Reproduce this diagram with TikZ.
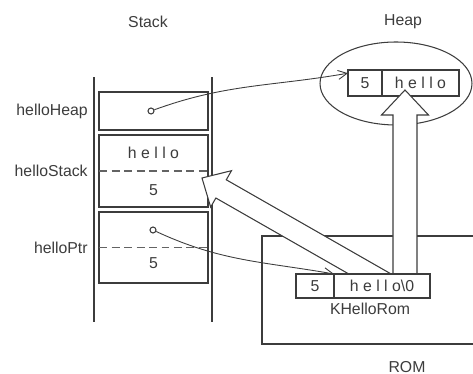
\documentclass[tikz,border=0pt]{standalone}
\usepackage{fontspec}
\setmainfont{Liberation Sans}
\newfontfamily\spacedfont[LetterSpace=28]{Liberation Sans}
\usepackage{tikz}
\usetikzlibrary{arrows.meta,positioning,calc,shapes.geometric}
\definecolor{ink}{HTML}{3C3C3C}
\pgfdeclarelayer{front}
\pgfsetlayers{main,front}
\tikzset{
 slot/.style={draw=ink,line width=0.9pt,fill=white,minimum width=2.18cm,inner sep=0pt,outer sep=0pt},
 cell/.style={draw=ink,line width=0.6pt,fill=white,inner sep=0pt,outer sep=0pt,
   minimum height=0.52cm,text=ink,font=\spacedfont\small},
 lbl/.style={text=ink,font=\small,inner sep=0pt},
 ptr/.style={circle,draw=ink,line width=0.6pt,minimum size=0.12cm,inner sep=0pt},
 link/.style={draw=ink,line width=0.5pt,-{Straight Barb[length=1.8mm,width=1.8mm]}},
 wall/.style={draw=ink,line width=1pt},
 divider/.style={draw=ink!80,line width=0.6pt,dash pattern=on 1.6mm off 0.9mm},
 bigarrow/.style={draw=ink,line width=0.6pt,fill=white,line join=miter}
}
% hollow block arrow: base, tip, shaft half width, head length, head half width
\newcommand{\hollowarrow}[5]{%
 \coordinate (hb) at ($(#2)!#4!(#1)$);
 \path[bigarrow] ($(#1)!#3!90:(#2)$) -- ($(hb)!#3!90:(#2)$) -- ($(hb)!#5!90:(#2)$)
   -- (#2) -- ($(hb)!#5!-90:(#2)$) -- ($(hb)!#3!-90:(#2)$) -- ($(#1)!#3!-90:(#2)$) -- cycle;
}

\begin{document}
\begin{tikzpicture}[x=0.02cm,y=0.02cm]
 \useasboundingbox (0,0) rectangle (473,374);
 \node[lbl] (stacktitle) at (148,352) {Stack};
 \node[lbl] (heaptitle) at (403,352) {Heap};

 % heap
 \node[ellipse,draw=ink,line width=0.6pt,minimum width=3.04cm,minimum height=1.66cm,inner sep=0pt] (heap) at (396,290.5) {};
 \node[cell,minimum width=0.68cm] (h5) at (365,291) {5};
 \node[cell,minimum width=1.54cm,right=0pt of h5] (hhello) {hello};

 % stack
 \draw[wall] (94,52) -- (94,297);
 \draw[wall] (212,52) -- (212,297);
 \node[slot,minimum height=0.76cm] (hheap) at (153.5,263) {};
 \node[slot,minimum height=1.44cm] (hstack) at (153.5,203) {};
 \node[slot,minimum height=1.42cm] (hptr) at (153.5,126.5) {};
 \draw[divider] (hstack.west) -- (hstack.east);
 \draw[divider] (hptr.west) -- (hptr.east);
 \node[lbl,font=\spacedfont\small] (shello) at ($(hstack.center)+(0,18)$) {hello};
 \node[lbl] (slen) at ($(hstack.center)+(0,-19)$) {5};
 \node[lbl] (plen) at ($(hptr.center)+(0,-15.5)$) {5};
 \node[ptr] (c1) at (151,263) {};
 \node[ptr] (c3) at (153,144) {};
 \node[lbl,left=2.2mm of hheap.west] (nheap) {helloHeap};
 \node[lbl,left=2.2mm of hstack.west] (nstack) {helloStack};
 \node[lbl,left=2.2mm of hptr.west] (nptr) {helloPtr};

 % rom
 \draw[ink,line width=0.6pt] (473,138) -- (262,138) -- (262,30) -- (473,30);
 \node[lbl] (romtitle) at (407,7) {ROM};
 \begin{pgfonlayer}{front}
  \node[cell,minimum width=0.76cm,minimum height=0.48cm] (r5) at (315,88) {5};
  \node[cell,minimum width=1.92cm,minimum height=0.48cm,right=0pt of r5] (rhello) {hello\normalfont\textbackslash0};
 \end{pgfonlayer}
 \node[lbl] (romname) at (370,65) {KHelloRom};

 % copies
 \coordinate (vbase) at ($(rhello.center)+(23,0)$);
 \coordinate (vtip) at ($(vbase |- hhello.south)+(0,6)$);
 \hollowarrow{vbase}{vtip}{0.24cm}{0.5cm}{0.47cm}
 \coordinate (dbase) at ($(rhello.center)+(9,0)$);
 \coordinate (dtip) at ($(hstack.east)+(-6,-7)$);
 \hollowarrow{dbase}{dtip}{0.21cm}{0.44cm}{0.42cm}

 % pointers
 \draw[link] (c1) to[out=20,in=190] (h5.150);
 \draw[link] (c3) to[out=-25,in=170] (r5.north east);
\end{tikzpicture}
\end{document}
